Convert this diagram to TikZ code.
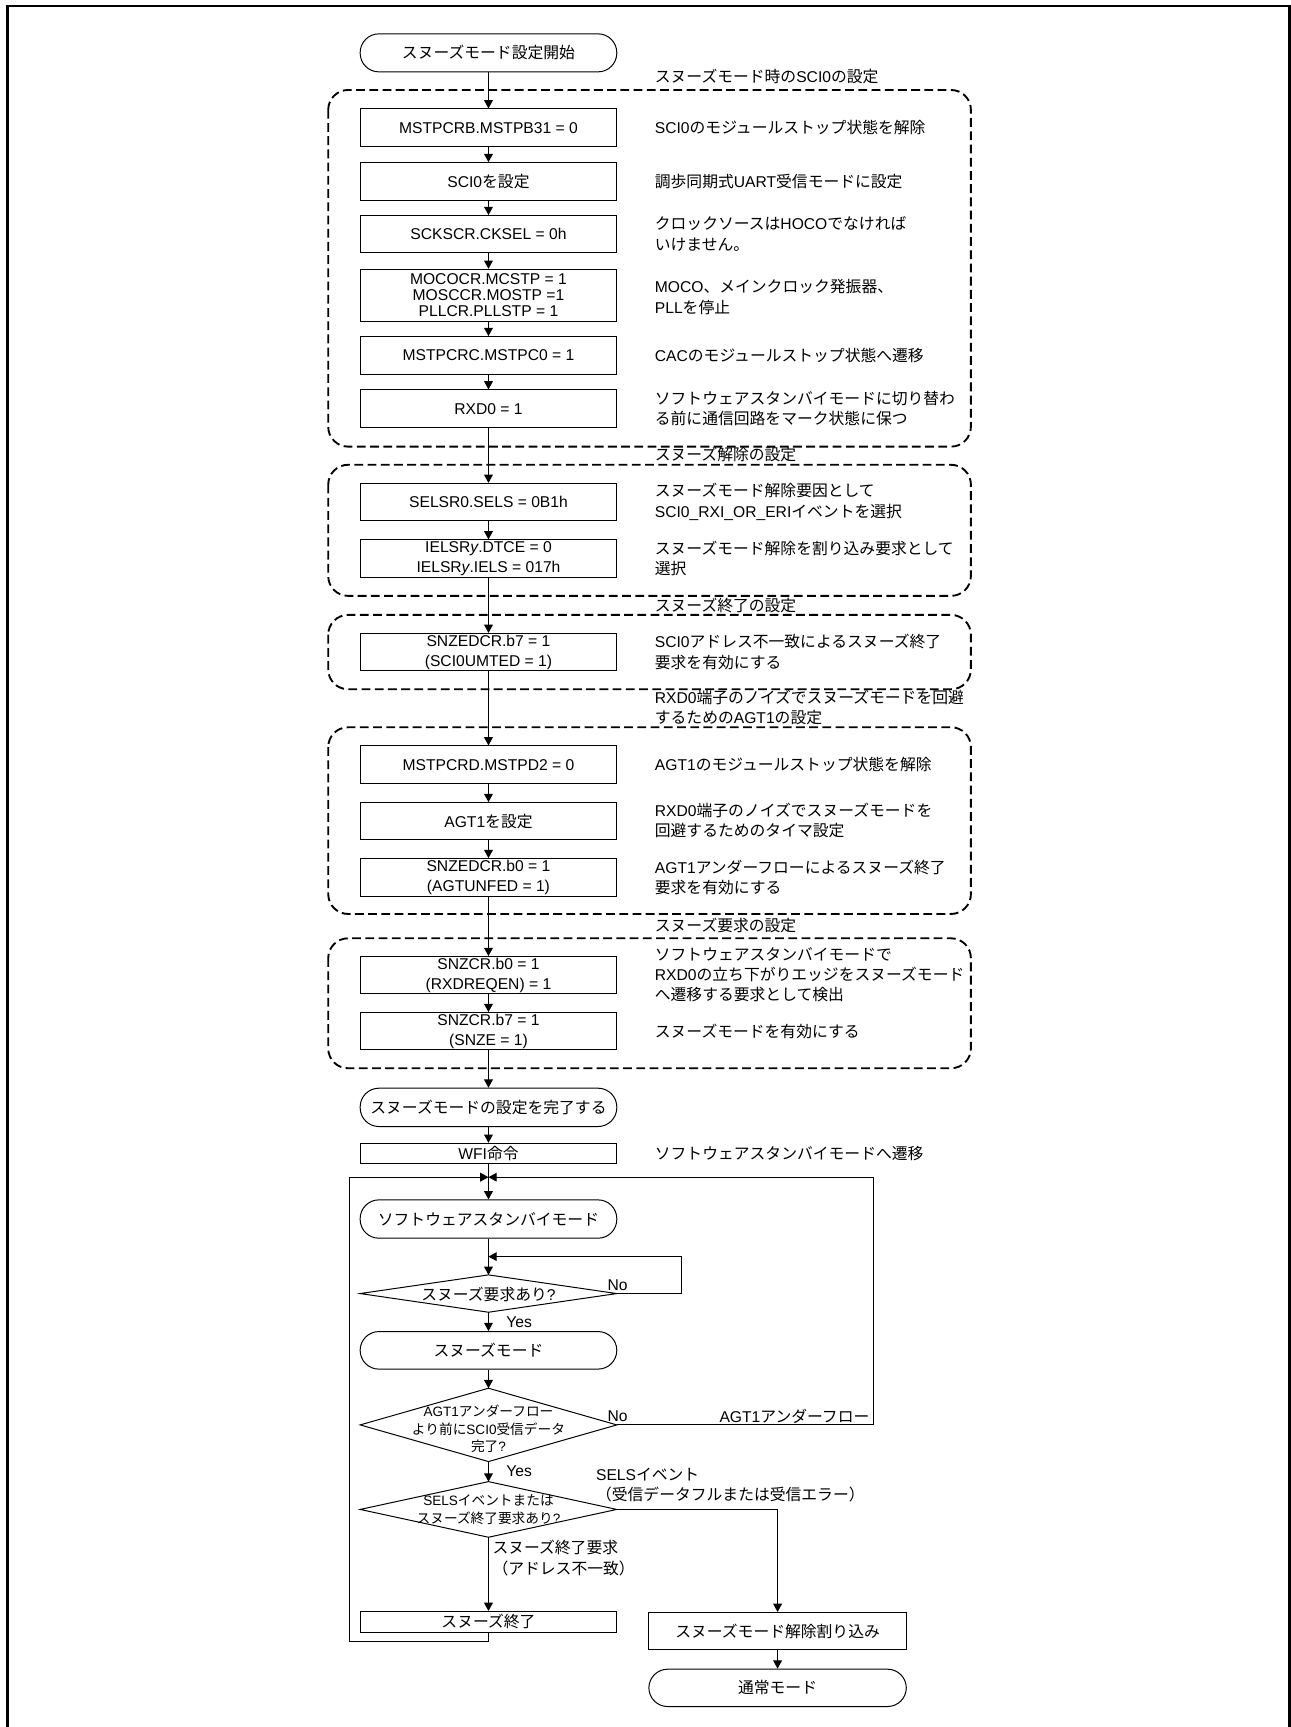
\documentclass[tikz,border=0pt]{standalone}
\usepackage{fontspec}
\setmainfont{Liberation Sans}
\newfontfamily\cjkfont{Noto Sans CJK JP}[Scale=1.01]
\usetikzlibrary{arrows.meta}
\XeTeXinterchartokenstate=1
\newXeTeXintercharclass\CJKcls
\newcount\cjkcnt
\def\setcjkrange#1#2{\cjkcnt=#1\relax\loop\XeTeXcharclass\cjkcnt=\CJKcls\relax\ifnum\cjkcnt<#2\relax\advance\cjkcnt by 1\relax\repeat}
\setcjkrange{"3000}{"30FF}
\setcjkrange{"4E00}{"9FFF}
\setcjkrange{"FF00}{"FFEF}
\XeTeXinterchartoks 0 \CJKcls = {\cjkfont}
\XeTeXinterchartoks 4095 \CJKcls = {\cjkfont}
\XeTeXinterchartoks \CJKcls 0 = {\rmfamily}
\XeTeXinterchartoks \CJKcls 4095 = {\rmfamily}
\begin{document}
\begin{tikzpicture}[x=1pt,y=-1pt,
  txtbase/.style={font=\fontsize{14.2}{18.5}\selectfont, inner sep=0pt},
  pbox/.style={txtbase, draw, line width=0.9pt, minimum width=233pt, minimum height=34pt, align=center},
  term/.style={pbox, rounded corners=17pt},
  cmt/.style={txtbase, anchor=west, align=left},
  grp/.style={draw, line width=1.7pt, dash pattern=on 8pt off 4pt, rounded corners=18pt},
  arr/.style={line width=0.9pt, -{Triangle[length=7.5pt,width=8pt]}},
  ln/.style={line width=0.9pt},
  smalltxt/.style={txtbase, font=\fontsize{12.3}{16}\selectfont, align=center}]
\useasboundingbox (0,0) rectangle (1172,1568);
% outer frame
\draw[line width=2.5pt] (6.7,1580) -- (6.7,5.45) -- (1170.8,5.45) -- (1170.8,1580);
% dashed groups
\draw[grp] (298,81.7) rectangle (881.5,405.5);
\draw[grp] (298,422) rectangle (881.5,541);
\draw[grp] (298,558.3) rectangle (881.5,625.8);
\draw[grp] (298,660.3) rectangle (881.5,829.8);
\draw[grp] (298,851.9) rectangle (881.5,969.9);
% group labels
\node[cmt] (l1) at (594.4,69.6) {スヌーズモード時のSCI0の設定};
\node[cmt] (l2) at (594.4,413) {スヌーズ解除の設定};
\node[cmt] (l3) at (594.4,549.3) {スヌーズ終了の設定};
\node[cmt] (l4) at (594.4,642.5) {RXD0端子のノイズでスヌーズモードを回避\\するためのAGT1の設定};
\node[cmt] (l5) at (594.4,840.7) {スヌーズ要求の設定};
% main column
\node[term, minimum height=34.5pt] (t1) at (443.5,48) {スヌーズモード設定開始};
\node[pbox] (b1) at (443.5,115.9) {MSTPCRB.MSTPB31 = 0};
\node[pbox] (b2) at (443.5,164.65) {SCI0を設定};
\node[pbox] (b3) at (443.5,212.7) {SCKSCR.CKSEL = 0h};
\node[pbox, minimum height=47pt, font=\fontsize{14.2}{14.5}\selectfont] (b4) at (443.5,268) {MOCOCR.MCSTP = 1\\MOSCCR.MOSTP =1\\PLLCR.PLLSTP = 1};
\node[pbox] (b5) at (443.5,322.6) {MSTPCRC.MSTPC0 = 1};
\node[pbox] (b6) at (443.5,371) {RXD0 = 1};
\node[pbox] (b7) at (443.5,455.9) {SELSR0.SELS = 0B1h};
\node[pbox] (b8) at (443.5,507.15) {IELSR\textit{y}.DTCE = 0\\IELSR\textit{y}.IELS = 017h};
\node[pbox] (b9) at (443.5,592.1) {SNZEDCR.b7 = 1\\(SCI0UMTED = 1)};
\node[pbox] (b10) at (443.5,694.25) {MSTPCRD.MSTPD2 = 0};
\node[pbox] (b11) at (443.5,745.65) {AGT1を設定};
\node[pbox] (b12) at (443.5,796.6) {SNZEDCR.b0 = 1\\(AGTUNFED = 1)};
\node[pbox] (b13) at (443.5,885.45) {SNZCR.b0 = 1\\(RXDREQEN) = 1};
\node[pbox] (b14) at (443.5,936.3) {SNZCR.b7 = 1\\(SNZE = 1)};
\node[term, minimum height=34.8pt] (t2) at (443.5,1005.4) {スヌーズモードの設定を完了する};
\node[pbox, minimum height=18.8pt] (b15) at (443.5,1047.4) {WFI命令};
\node[term, minimum height=34.8pt] (t3) at (443.5,1106.8) {ソフトウェアスタンバイモード};
\node[term, minimum height=34.1pt] (t4) at (443.5,1226) {スヌーズモード};
\node[pbox, minimum height=18.8pt] (b16) at (443.5,1472.5) {スヌーズ終了};
\node[pbox, minimum width=233.7pt] (b17) at (706,1481) {スヌーズモード解除割り込み};
\node[term, minimum width=233.7pt, minimum height=33.9pt] (t5) at (706,1532.45) {通常モード};
% comments
\node[cmt] (c1) at (594.4,116) {SCI0のモジュールストップ状態を解除};
\node[cmt] (c2) at (594.4,164.5) {調歩同期式UART受信モードに設定};
\node[cmt] (c3) at (594.4,212.3) {クロックソースはHOCOでなければ\\いけません。};
\node[cmt] (c4) at (594.4,269.5) {MOCO、メインクロック発振器、\\PLLを停止};
\node[cmt] (c5) at (594.4,322.5) {CACのモジュールストップ状態へ遷移};
\node[cmt] (c6) at (594.4,371) {ソフトウェアスタンバイモードに切り替わ\\る前に通信回路をマーク状態に保つ};
\node[cmt] (c7) at (594.4,455.5) {スヌーズモード解除要因として\\SCI0\_RXI\_OR\_ERIイベントを選択};
\node[cmt] (c8) at (594.4,507) {スヌーズモード解除を割り込み要求として\\選択};
\node[cmt] (c9) at (594.4,592) {SCI0アドレス不一致によるスヌーズ終了\\要求を有効にする};
\node[cmt] (c10) at (594.4,694.5) {AGT1のモジュールストップ状態を解除};
\node[cmt] (c11) at (594.4,745) {RXD0端子のノイズでスヌーズモードを\\回避するためのタイマ設定};
\node[cmt] (c12) at (594.4,796.5) {AGT1アンダーフローによるスヌーズ終了\\要求を有効にする};
\node[cmt] (c13) at (594.4,885) {ソフトウェアスタンバイモードで\\RXD0の立ち下がりエッジをスヌーズモード\\へ遷移する要求として検出};
\node[cmt] (c14) at (594.4,936.5) {スヌーズモードを有効にする};
\node[cmt] (c15) at (594.4,1047) {ソフトウェアスタンバイモードへ遷移};
% diamonds
\coordinate (d1t) at (443.5,1157.5);
\coordinate (d1r) at (560,1174.45);
\coordinate (d1b) at (443.5,1191.4);
\coordinate (d1l) at (327,1174.45);
\draw[ln] (d1t) -- (d1r) -- (d1b) -- (d1l) -- cycle;
\node[txtbase] (d1) at (443.5,1175) {スヌーズ要求あり?};
\coordinate (d2t) at (443.5,1260.4);
\coordinate (d2r) at (560,1293.7);
\coordinate (d2b) at (443.5,1327);
\coordinate (d2l) at (327,1293.7);
\draw[ln] (d2t) -- (d2r) -- (d2b) -- (d2l) -- cycle;
\node[smalltxt] (d2) at (443.5,1297.5) {AGT1アンダーフロー\\より前にSCI0受信データ\\完了?};
\coordinate (d3t) at (443.5,1345.2);
\coordinate (d3r) at (560,1370.45);
\coordinate (d3b) at (443.5,1395.7);
\coordinate (d3l) at (327,1370.45);
\draw[ln] (d3t) -- (d3r) -- (d3b) -- (d3l) -- cycle;
\node[smalltxt] (d3) at (443.5,1370.4) {SELSイベントまたは\\スヌーズ終了要求あり?};
% main connectors
\foreach \a/\b in {t1/b1,b1/b2,b2/b3,b3/b4,b4/b5,b5/b6,b6/b7,b7/b8,b8/b9,b9/b10,b10/b11,b11/b12,b12/b13,b13/b14,b14/t2,t2/b15,b15/t3,b17/t5}
  \draw[arr] (\a) -- (\b);
\draw[arr] (t3) -- (d1t);
\draw[arr] (d1b) -- (t4);
\draw[arr] (t4) -- (d2t);
\draw[arr] (d2b) -- (d3t);
\draw[arr] (d3b) -- (b16);
\draw[arr] (d3r) -| (b17);
% loops
\coordinate (jn) at (443.5,1068.8);
\coordinate (sl1) at (619,1174.45);
\coordinate (sl2) at (619,1140.9);
\coordinate (sl3) at (443.5,1140.9);
\draw[arr] (d1r) -- (sl1) -- (sl2) -- (sl3);
\coordinate (rbr) at (793.5,1293.7);
\coordinate (rtr) at (793.5,1068.8);
\draw[arr] (d2r) -- (rbr) -- (rtr) -- (jn);
\coordinate (lbb) at (443.5,1490.4);
\coordinate (lbl) at (317.7,1490.4);
\coordinate (ltl) at (317.7,1068.8);
\draw[arr] (b16.south) -- (lbb) -- (lbl) -- (ltl) -- (jn);
% branch labels
\node[cmt] (no1) at (551.5,1166.5) {No};
\node[cmt] (yes1) at (459.5,1200) {Yes};
\node[cmt] (no2) at (551.5,1285.5) {No};
\node[txtbase, anchor=east] (agt) at (789.5,1285.5) {AGT1アンダーフロー};
\node[cmt] (yes2) at (459.5,1336) {Yes};
\node[cmt, font=\fontsize{14.2}{18}\selectfont] (sels) at (541,1348) {SELSイベント\\（受信データフルまたは受信エラー）};
\node[cmt, font=\fontsize{14.2}{19}\selectfont] (snzend) at (447,1414.3) {スヌーズ終了要求\\（アドレス不一致）};
\end{tikzpicture}
\end{document}
